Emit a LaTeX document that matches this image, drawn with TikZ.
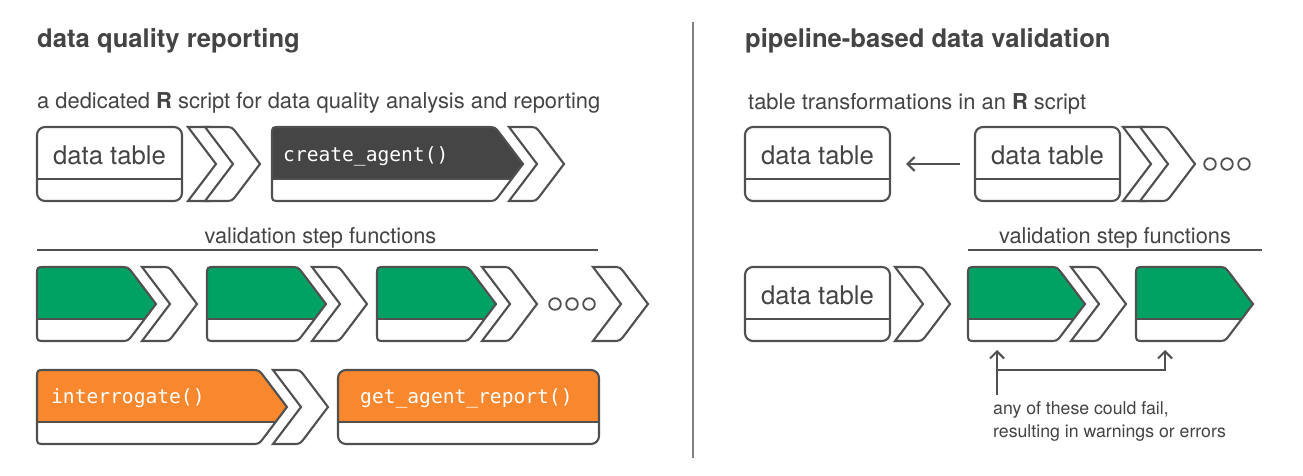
\documentclass[tikz,border=0pt]{standalone}
\usepackage{fontspec}
\setmainfont{TeX Gyre Heros}
\setmonofont{DejaVu Sans Mono}
\usetikzlibrary{arrows.meta}
\definecolor{ink}{HTML}{505050}
\definecolor{txt}{HTML}{444444}
\definecolor{pbgreen}{HTML}{00A263}
\definecolor{pborange}{HTML}{F8872D}
\definecolor{pbdark}{HTML}{454545}
\definecolor{sepc}{HTML}{808080}
\tikzset{
  outl/.style={draw=ink, line width=2.1pt},
  tbl/.style={outl, fill=white, rounded corners=8pt, minimum width=145pt, minimum height=74pt, inner sep=0pt},
  ttl/.style={anchor=base west, inner sep=0pt, text=txt, font=\fontsize{25.6}{30}\selectfont\bfseries},
  subt/.style={anchor=base west, inner sep=0pt, text=txt, font=\fontsize{21.9}{26}\selectfont},
  lbl/.style={anchor=base, inner sep=0pt, text=txt, font=\fontsize{21.8}{26}\selectfont},
  dtl/.style={anchor=base, inner sep=0pt, text=txt, font=\fontsize{25.7}{30}\selectfont},
  code/.style={anchor=base west, inner sep=0pt, text=white, font=\fontsize{19.6}{24}\selectfont\ttfamily},
  note/.style={anchor=base west, inner sep=0pt, text=txt, font=\fontsize{17.7}{23}\selectfont},
  arr/.style={outl, -{Straight Barb[length=7pt,width=14pt]}},
}
% pentagon box: #1 left x, #2 right x (before tip), #3 top y, #4 colour
\newcommand\pent[4]{%
  \begin{scope}
    \clip (#1,#3+8) .. controls (#1,#3) .. (#1+8,#3) -- (#2-8,#3) .. controls (#2,#3) .. (#2+4.83,#3+6.38) -- (#2+28,#3+37) -- (#2+4.83,#3+67.62) .. controls (#2,#3+74) .. (#2-8,#3+74) -- (#1+8,#3+74) .. controls (#1,#3+74) .. (#1,#3+66) -- cycle;
    \fill[white] (#1-5,#3-5) rectangle (#2+40,#3+80);
    \fill[#4] (#1-5,#3-5) rectangle (#2+40,#3+52);
    \draw[outl] (#1-5,#3+52) -- (#2+40,#3+52);
  \end{scope}
  \draw[outl] (#1,#3+8) .. controls (#1,#3) .. (#1+8,#3) -- (#2-8,#3) .. controls (#2,#3) .. (#2+4.83,#3+6.38) -- (#2+28,#3+37) -- (#2+4.83,#3+67.62) .. controls (#2,#3+74) .. (#2-8,#3+74) -- (#1+8,#3+74) .. controls (#1,#3+74) .. (#1,#3+66) -- cycle;
}
% chevron: #1 left x, #2 top y
\newcommand\chev[2]{%
  \draw[outl, fill=white] (#1,#2) -- (#1+19,#2) .. controls (#1+27,#2) .. (#1+31.83,#2+6.38) -- (#1+55,#2+37) -- (#1+31.83,#2+67.62) .. controls (#1+27,#2+74) .. (#1+19,#2+74) -- (#1,#2+74) -- (#1+28,#2+37) -- cycle;
}
% rounded box with coloured top: #1 left, #2 right, #3 top, #4 colour
\newcommand\rbox[4]{%
  \begin{scope}
    \clip[rounded corners=8pt] (#1,#3) rectangle (#2,#3+74);
    \fill[white] (#1-5,#3-5) rectangle (#2+5,#3+80);
    \fill[#4] (#1-5,#3-5) rectangle (#2+5,#3+52);
    \draw[outl] (#1-5,#3+52) -- (#2+5,#3+52);
  \end{scope}
  \draw[outl, rounded corners=8pt] (#1,#3) rectangle (#2,#3+74);
}
% data table node: #1 name, #2 left x, #3 top y
\newcommand\dtable[3]{%
  \node[tbl] (#1) at (#2+72.5,#3+37) {};
  \draw[outl] ([yshift=-15pt]#1.west) -- ([yshift=-15pt]#1.east);
  \node[dtl] (#1-t) at ([yshift=-38.5pt]#1.north) {data table};
}
\begin{document}
\begin{tikzpicture}[x=1pt,y=-1pt]
\useasboundingbox (0,0) rectangle (1303,475);
\fill[white] (0,0) rectangle (1303,475);

% ---------- left panel ----------
\node[ttl] (tL) at (37,47) {data quality reporting};
\node[subt] (sL) at (37,108) {a dedicated \textbf{R} script for data quality analysis and reporting};

% row 1
\dtable{dtL}{37}{127}
\chev{188}{127}
\chev{205}{127}
\pent{272}{495}{127}{pbdark}
\node[code] (ca) at (283,161) {create\_agent()};
\chev{509}{127}

% validation step functions
\node[lbl] (vL) at (320.5,243) {validation step functions};
\draw[outl, line width=1.8pt] (37,250) -- (598,250);

% row 2
\pent{37}{128}{267}{pbgreen}
\chev{142}{267}
\pent{207}{298}{267}{pbgreen}
\chev{312}{267}
\pent{377}{468}{267}{pbgreen}
\chev{482}{267}
\foreach \cx in {555,572,589} \draw[outl, line width=1.8pt] (\cx,304) circle [radius=5.8pt];
\chev{593}{267}

% row 3
\pent{37}{259}{370}{pborange}
\node[code] (ir) at (51,403) {interrogate()};
\chev{273}{370}
\rbox{338}{599}{370}{pborange}
\node[code] (gr) at (360,403) {get\_agent\_report()};

% separator
\draw[draw=sepc, line width=2pt] (693,22) -- (693,458);

% ---------- right panel ----------
\node[ttl] (tR) at (745,47) {pipeline-based data validation};
\node[subt] (sR) at (748,109) {table transformations in an \textbf{R} script};

% row A
\dtable{dtR1}{745}{127}
\dtable{dtR2}{975}{127}
\draw[arr] ([xshift=-14pt]dtR2.west) -- ([xshift=15pt]dtR1.east);
\chev{1123}{127}
\chev{1140}{127}
\foreach \cx in {1210,1227,1244} \draw[outl, line width=1.8pt] (\cx,164) circle [radius=5.8pt];

% validation step functions
\node[lbl] (vR) at (1115,243) {validation step functions};
\draw[outl, line width=1.8pt] (968,250) -- (1262,250);

% row B
\dtable{dtR3}{745}{267}
\chev{895}{267}
\pent{968}{1057}{267}{pbgreen}
\chev{1071}{267}
\pent{1136}{1225}{267}{pbgreen}

% failure arrows
\coordinate (g1) at (997,350);
\coordinate (g2) at (1165,350);
\coordinate (j1) at (997,370);
\coordinate (ft) at (997,395);
\draw[arr] (ft) -- (g1);
\draw[arr] (j1) -| (g2);
\node[note] (nt1) at (993,414) {any of these could fail,};
\node[note] (nt2) at (993,437) {resulting in warnings or errors};
\end{tikzpicture}
\end{document}
